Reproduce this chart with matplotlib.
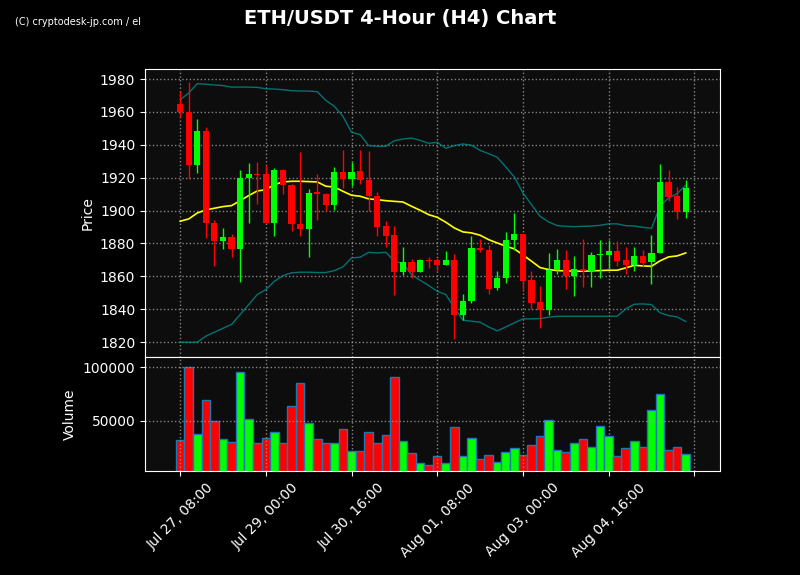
import numpy as np
import pandas as pd
import matplotlib
matplotlib.use('Agg')
import matplotlib.pyplot as plt

# ETH/USDT 4h candles
opens = [1965.0, 1960.1, 1927.5, 1948.6, 1892.5, 1881.3, 1884.2, 1876.5, 1919.6, 1922.5,
         1922.5, 1892.3, 1924.9, 1915.8, 1892.0, 1888.6, 1911.0, 1910.3, 1903.2, 1923.7,
         1919.0, 1924.3, 1918.8, 1909.1, 1890.4, 1885.0, 1862.5, 1868.6, 1862.5, 1870.2,
         1870.2, 1866.7, 1870.2, 1836.7, 1845.2, 1877.5, 1876.3, 1852.7, 1859.0, 1882.3,
         1885.6, 1857.6, 1844.2, 1839.4, 1863.7, 1870.2, 1860.0, 1864.7, 1863.5, 1873.2,
         1872.8, 1875.6, 1870.2, 1867.1, 1872.6, 1868.6, 1874.0, 1917.6, 1909.1, 1899.0]
highs = [1972.5, 1978.0, 1955.7, 1950.6, 1894.0, 1889.4, 1886.0, 1924.9, 1928.9, 1929.5,
         1928.0, 1926.0, 1925.0, 1916.0, 1935.6, 1913.1, 1922.2, 1910.7, 1926.5, 1936.8,
         1929.5, 1936.8, 1936.2, 1911.3, 1893.9, 1890.4, 1877.7, 1870.6, 1870.6, 1871.6,
         1871.2, 1875.6, 1873.8, 1849.3, 1884.8, 1882.7, 1878.9, 1863.3, 1887.0, 1898.5,
         1885.6, 1863.3, 1854.4, 1874.2, 1876.7, 1876.3, 1872.6, 1882.7, 1874.8, 1881.9,
         1881.9, 1881.3, 1877.9, 1877.7, 1876.3, 1885.2, 1928.3, 1924.7, 1914.3, 1918.4]
lows = [1956.9, 1919.4, 1922.9, 1883.0, 1866.0, 1876.7, 1871.8, 1856.6, 1892.5, 1904.0,
        1892.3, 1884.4, 1910.3, 1887.8, 1884.4, 1871.8, 1894.5, 1900.0, 1900.2, 1913.7,
        1914.8, 1916.2, 1899.6, 1884.8, 1878.0, 1848.9, 1860.6, 1859.0, 1862.5, 1865.0,
        1863.3, 1866.7, 1822.1, 1833.3, 1843.8, 1874.6, 1849.5, 1851.9, 1856.0, 1876.3,
        1850.9, 1840.2, 1828.6, 1836.3, 1861.7, 1852.3, 1847.8, 1853.6, 1853.6, 1859.0,
        1865.0, 1866.0, 1861.7, 1863.3, 1866.5, 1855.6, 1874.0, 1905.6, 1894.9, 1895.5]
closes = [1959.7, 1927.5, 1948.6, 1892.3, 1881.3, 1884.2, 1876.5, 1920.0, 1922.5, 1921.8,
          1892.3, 1924.9, 1915.4, 1891.7, 1888.6, 1910.7, 1910.0, 1903.2, 1923.7, 1919.0,
          1923.7, 1918.4, 1908.7, 1890.0, 1884.4, 1862.5, 1868.6, 1862.5, 1870.2, 1869.6,
          1866.7, 1870.2, 1836.7, 1845.2, 1877.5, 1875.8, 1852.3, 1859.2, 1882.3, 1885.6,
          1857.0, 1843.8, 1839.4, 1863.7, 1870.2, 1860.0, 1864.7, 1863.5, 1873.2, 1873.6,
          1875.6, 1869.6, 1867.1, 1872.6, 1868.2, 1874.4, 1917.6, 1908.5, 1899.0, 1914.0]
volumes = [32400, 100000, 38000, 69400, 50000, 33300, 30600, 95400, 51900, 29600,
           34300, 39800, 29600, 63900, 85200, 48100, 33300, 29600, 29600, 42600,
           22200, 22200, 39800, 29000, 36400, 90700, 31500, 19800, 11100, 9300,
           17600, 11100, 44400, 17600, 34300, 14800, 18500, 12000, 21300, 25000,
           18500, 27800, 36100, 50900, 23200, 21300, 29600, 33300, 25900, 45400,
           36100, 17600, 25000, 31500, 25900, 60200, 75000, 23200, 25900, 19400]

# 20-period moving average and Bollinger bands as drawn
ma = [1893.5, 1894.9, 1898.5, 1900.4, 1901.4, 1902.4, 1903.0, 1906.0, 1909.1, 1911.9,
      1912.7, 1915.8, 1917.4, 1917.8, 1917.8, 1917.6, 1917.4, 1914.8, 1914.3, 1911.7,
      1909.3, 1908.7, 1907.1, 1906.6, 1906.0, 1905.6, 1905.2, 1902.6, 1900.2, 1897.5,
      1895.9, 1892.9, 1889.4, 1887.0, 1886.4, 1885.0, 1882.3, 1880.3, 1878.3, 1876.7,
      1873.0, 1869.2, 1865.3, 1864.1, 1863.5, 1863.3, 1863.1, 1863.1, 1863.3, 1863.5,
      1863.7, 1863.7, 1865.1, 1866.7, 1866.3, 1866.1, 1869.4, 1871.8, 1872.4, 1874.2]
upper = [1967.4, 1971.5, 1977.2, 1976.8, 1976.4, 1976.0, 1975.1, 1975.1, 1975.1, 1974.9,
         1974.1, 1973.9, 1973.5, 1972.9, 1972.7, 1972.7, 1972.3, 1967.0, 1963.4, 1957.3,
         1947.6, 1946.2, 1939.5, 1939.1, 1939.1, 1942.5, 1943.5, 1944.1, 1942.7, 1940.9,
         1941.5, 1937.9, 1939.5, 1940.5, 1939.7, 1936.6, 1934.6, 1932.4, 1926.5, 1920.4,
         1910.7, 1903.6, 1896.5, 1893.1, 1890.8, 1890.4, 1890.2, 1890.4, 1890.6, 1891.0,
         1891.9, 1891.9, 1890.8, 1890.6, 1889.8, 1889.2, 1902.6, 1907.7, 1910.3, 1915.4]
lower = [1819.9, 1819.9, 1819.9, 1823.6, 1826.0, 1828.4, 1830.7, 1836.7, 1842.8, 1848.9,
         1851.9, 1857.0, 1860.4, 1862.1, 1862.5, 1862.5, 1862.3, 1862.3, 1863.5, 1865.7,
         1871.2, 1871.6, 1874.6, 1874.2, 1874.6, 1869.2, 1867.7, 1861.1, 1857.6, 1854.4,
         1850.9, 1848.9, 1840.8, 1833.3, 1832.7, 1832.1, 1829.2, 1826.8, 1829.2, 1831.7,
         1834.1, 1834.1, 1834.3, 1835.1, 1835.7, 1835.7, 1835.7, 1835.7, 1835.7, 1835.7,
         1835.7, 1835.7, 1840.2, 1843.0, 1843.2, 1842.8, 1837.8, 1836.1, 1835.3, 1832.5]

start_time = '2023-07-27 08:00'

df = pd.DataFrame({'open': opens, 'high': highs, 'low': lows, 'close': closes,
                   'volume': volumes, 'ma': ma, 'upper': upper, 'lower': lower},
                  index=pd.date_range(start_time, periods=len(opens), freq='4h'))

UP = '#00ff00'
DOWN = '#ff0000'
BG = '#000000'
PANEL = '#0d0d0d'


def style_axis(ax):
    ax.set_facecolor(PANEL)
    for s in ax.spines.values():
        s.set_color('white')
    ax.tick_params(colors='white', labelsize=10)
    ax.grid(True, linestyle=':', color='#a0a0a0', linewidth=1, alpha=0.8)


fig = plt.figure(figsize=(8, 5.75), dpi=100, facecolor=BG)
ax1 = fig.add_axes([0.18125, 0.3791, 0.71875, 0.5009])
ax2 = fig.add_axes([0.18125, 0.1809, 0.71875, 0.1982], sharex=ax1)
style_axis(ax1)
style_axis(ax2)

x = np.arange(len(df))
colors = [UP if c >= o else DOWN for o, c in zip(df['open'], df['close'])]

# bands and moving average
ax1.plot(x, df['upper'], color='#008b8b', linewidth=1, alpha=0.8)
ax1.plot(x, df['lower'], color='#008b8b', linewidth=1, alpha=0.8)
ax1.plot(x, df['ma'], color='yellow', linewidth=1.2)

# candles
ax1.vlines(x, df['low'], df['high'], colors=colors, linewidth=1, zorder=3)
body_lo = np.minimum(df['open'], df['close'])
body_h = np.maximum(np.abs(df['close'] - df['open']), 0.4)
ax1.bar(x, body_h, bottom=body_lo, width=0.72, color=colors, linewidth=0, zorder=4)

ax1.set_ylim(1810.9, 1986.1)
ax1.set_yticks(range(1820, 1981, 20))
ax1.set_ylabel('Price', color='white', fontsize=10)
ax1.tick_params(axis='x', labelbottom=False)

# volume
ax2.bar(x, df['volume'], width=1.0, color=colors, edgecolor='#1f77b4', linewidth=1)
ax2.set_ylim(3300, 109600)
ax2.set_yticks([50000, 100000])
ax2.set_ylabel('Volume', color='white', fontsize=10)

ticks = list(range(0, len(df) + 1, 10))
labels = [df.index[i].strftime('%b %d, %H:%M') if i < len(df) else '' for i in ticks]
ax2.set_xticks(ticks)
ax2.set_xticklabels(labels, rotation=45, ha='center')
ax2.set_xlim(-4.1, 63.0)

fig.suptitle('ETH/USDT 4-Hour (H4) Chart', color='white', fontsize=14,
             fontweight='bold', y=0.985)
fig.text(0.019, 0.962, '(C) cryptodesk-jp.com / el', color='white', fontsize=7,
         va='center', ha='left')

plt.savefig('out.png', dpi=100, facecolor=BG)
plt.close()
